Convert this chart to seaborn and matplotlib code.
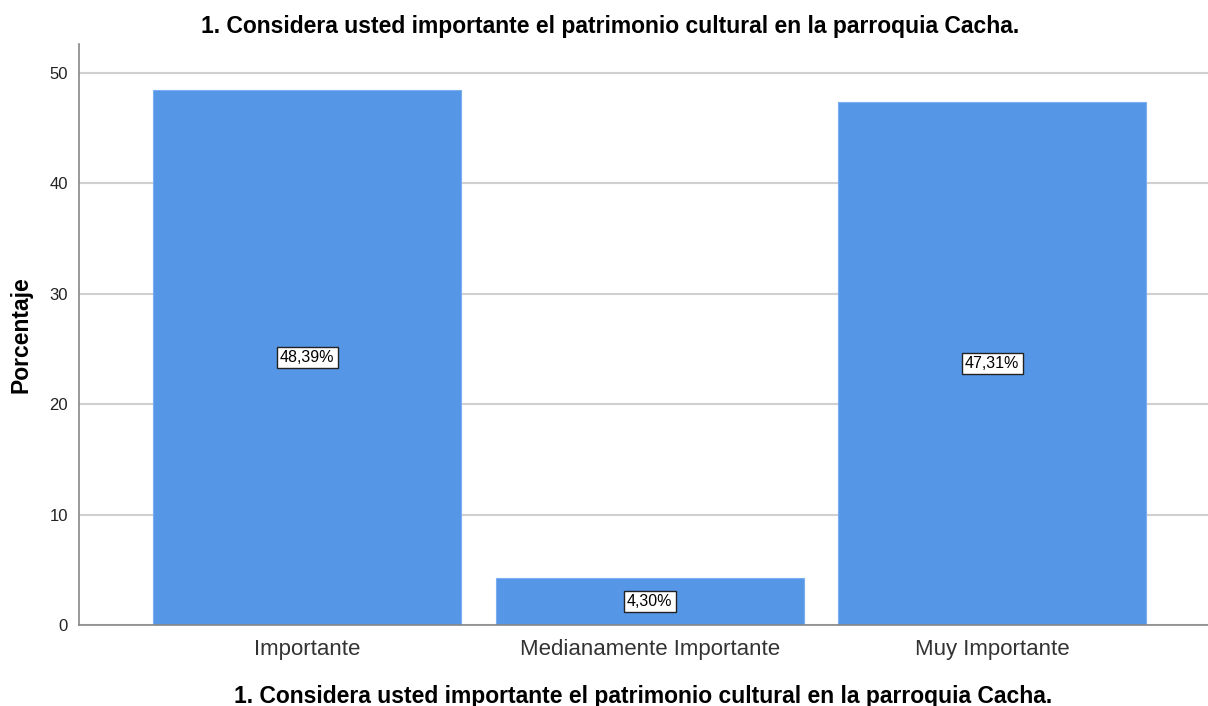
import pandas as pd
import matplotlib.pyplot as plt
import seaborn as sns

categories = ['Importante', 'Medianamente Importante', 'Muy Importante']
porcentajes = [48.39, 4.30, 47.31]
etiquetas = ['48,39%', '4,30%', '47,31%']
titulo = '1. Considera usted importante el patrimonio cultural en la parroquia Cacha.'

df = pd.DataFrame({'Categoria': categories, 'Porcentaje': porcentajes})

sns.set_style("white")
plt.rcParams['font.family'] = ['Liberation Sans', 'DejaVu Sans']

fig = plt.figure(figsize=(12.08, 7.06), dpi=100)
ax = fig.add_axes([0.0654, 0.1147, 0.9346, 0.823])

sns.barplot(x='Categoria', y='Porcentaje', data=df, color='#5596E6',
            width=0.9, edgecolor='#7aaef0', linewidth=0.8, saturation=1, ax=ax)

# etiquetas en cajas al centro de cada barra
for i, (v, t) in enumerate(zip(porcentajes, etiquetas)):
    ax.text(i, v / 2, t, ha='center', va='center', fontsize=11.5, color='black',
            bbox=dict(boxstyle='square,pad=0.2', facecolor='white',
                      edgecolor='#222222', linewidth=1))

ax.set_ylim(0, 52.6)
ax.set_xlim(-0.666, 2.63)
ax.set_yticks([0, 10, 20, 30, 40, 50])
ax.yaxis.grid(True, color='#d0d0d0', linewidth=1.5)
ax.set_axisbelow(True)

for s in ['top', 'right']:
    ax.spines[s].set_visible(False)
for s in ['left', 'bottom']:
    ax.spines[s].set_color('#888888')
    ax.spines[s].set_linewidth(1.2)

ax.tick_params(axis='y', labelsize=12, length=0, pad=8, labelcolor='#222222')
ax.tick_params(axis='x', labelsize=16, length=0, pad=10, labelcolor='#333333')

fig.text(0.505, 0.962, titulo, ha='center', va='center',
         fontsize=16.5, fontweight='bold', color='black')
ax.set_xlabel(titulo, fontsize=16.5, fontweight='bold', labelpad=18, color='black')
ax.set_ylabel('Porcentaje', fontsize=16.5, fontweight='bold', labelpad=12, color='black')

fig.savefig('out.png', dpi=100)
